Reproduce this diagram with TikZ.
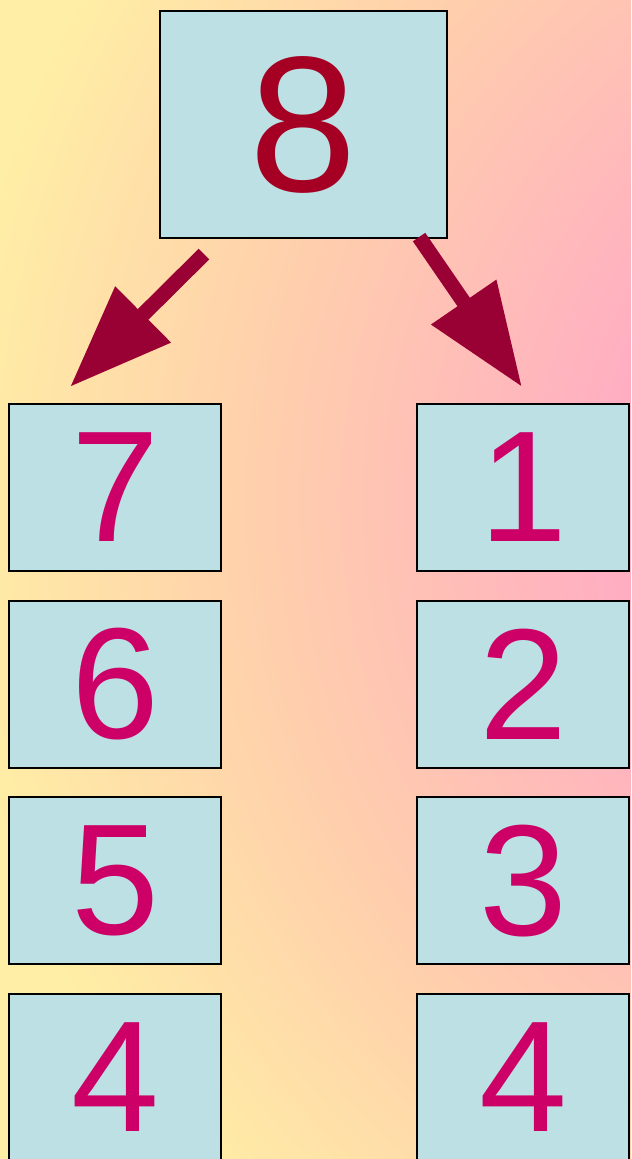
\documentclass[tikz,border=0pt]{standalone}
\usepackage{fontspec}
\setmainfont{Liberation Sans}
\usepackage{xcolor}
\usetikzlibrary{arrows.meta, positioning, calc}

\definecolor{bgpink}{RGB}{255,174,194}
\definecolor{bgpeach}{RGB}{255,208,172}
\definecolor{bgyellow}{RGB}{255,238,165}
\definecolor{cardfill}{RGB}{188,224,228}
\definecolor{topred}{RGB}{165,0,35}
\definecolor{digitred}{RGB}{204,0,102}
\definecolor{arrowred}{RGB}{153,0,51}

\pgfdeclareradialshading{bgglow}{\pgfpoint{0bp}{0bp}}{color(0bp)=(bgpink); color(6.5bp)=(bgpink); color(12.5bp)=(bgpeach); color(17.5bp)=(bgyellow); color(50bp)=(bgyellow)}

\tikzset{
  card/.style={draw=black, line width=0.6pt, fill=cardfill, inner sep=0pt,
    minimum width=2.126cm, minimum height=1.67cm, text=digitred,
    font=\fontsize{45}{50}\selectfont},
  topcard/.style={card, minimum width=2.87cm, minimum height=2.27cm,
    text=topred, font=\fontsize{55}{60}\selectfont},
  fatarrow/.style={draw=arrowred, line width=0.15cm,
    -{Triangle[length=1.03cm, width=0.75cm]}}
}

\begin{document}
\begin{tikzpicture}
% Background
\useasboundingbox (0,0) rectangle (6.31,-11.59);
\begin{scope}
\clip (0,0) rectangle (6.31,-11.59);
\shade[shading=bgglow] (10,-5) circle (15cm);
\end{scope}

% Top card
\node[topcard] (top) at (3.035,-1.245) {8};

% Left column
\node[card] (c7) at (1.15,-4.875) {7};
\node[card, below=0.275cm of c7] (c6) {6};
\node[card, below=0.275cm of c6] (c5) {5};
\node[card, below=0.275cm of c5] (c4a) {4};

% Right column
\node[card] (c1) at (5.23,-4.875) {1};
\node[card, below=0.275cm of c1] (c2) {2};
\node[card, below=0.275cm of c2] (c3) {3};
\node[card, below=0.275cm of c3] (c4b) {4};

% Arrows
\coordinate (ltail) at ($(top.south west)+(0.45,-0.15)$);
\coordinate (ltip) at ($(c7.north)+(-0.45,0.16)$);
\coordinate (rtail) at ($(top.south east)+(-0.29,0.02)$);
\coordinate (rtip) at ($(c1.north)+(-0.01,0.16)$);
\draw[fatarrow] (ltail) -- (ltip);
\draw[fatarrow] (rtail) -- (rtip);
\end{tikzpicture}
\end{document}
